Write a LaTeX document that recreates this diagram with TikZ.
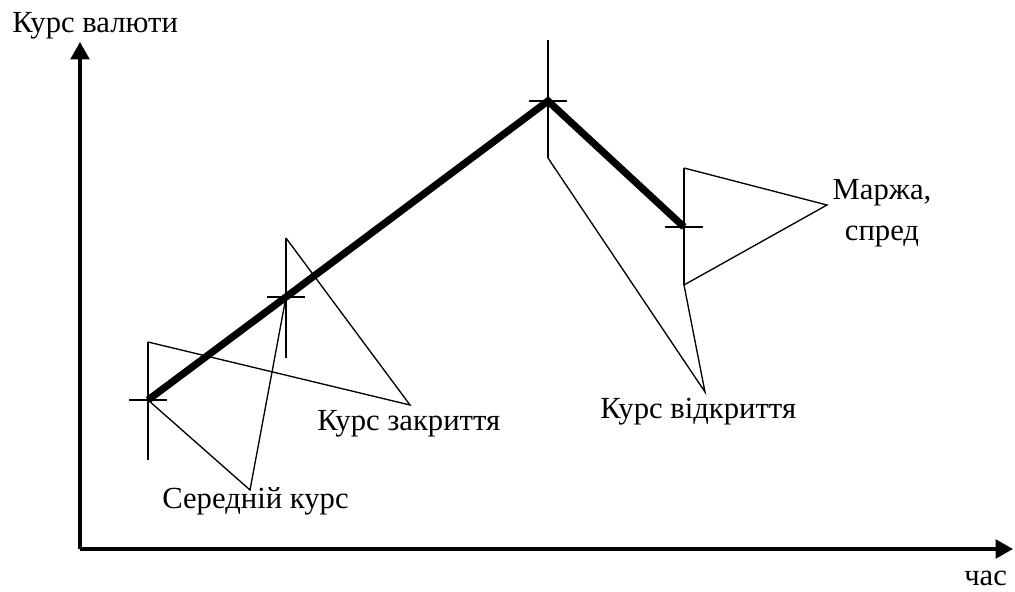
\documentclass[tikz,border=0pt]{standalone}
\usepackage{fontspec}
\setmainfont{Liberation Serif}
\usetikzlibrary{arrows.meta, calc, positioning}

\tikzset{
  axis/.style={line width=2.4pt, ->},
  rate/.style={line width=5.4pt, line join=miter},
  tickmark/.style={line width=1.5pt},
  callout/.style={line width=1pt, line join=miter},
  lbl/.style={font=\fontsize{23}{25}\selectfont, inner sep=0pt}
}

\begin{document}
\begin{tikzpicture}[x=0.75pt, y=-0.75pt, >={Triangle[length=13pt, width=14pt]}]
    \useasboundingbox (0,0) rectangle (1015,592);

    % points of the rate line
    \coordinate (a) at (148,400);
    \coordinate (b) at (286,297);
    \coordinate (c) at (548,101);
    \coordinate (d) at (684,227);

    % ends of the bars
    \coordinate (a-top) at (148,342);
    \coordinate (a-bot) at (148,460);
    \coordinate (b-top) at (286,238);
    \coordinate (b-bot) at (286,358);
    \coordinate (c-top) at (548,40);
    \coordinate (c-bot) at (548,158);
    \coordinate (d-top) at (684,168);
    \coordinate (d-bot) at (684,285);

    % labels
    \node[lbl, anchor=base west] (ylabel) at (12,33) {Курс валюти};
    \node[lbl, anchor=base west] (xlabel) at (964,585) {час};
    \node[lbl, anchor=base west] (close) at (317,430) {Курс закриття};
    \node[lbl, anchor=base west] (open) at (600,418) {Курс відкриття};
    \node[lbl, anchor=base west] (mid) at (162,508) {Середній курс};
    \node[lbl, anchor=north, align=center, font=\fontsize{23}{31}\selectfont] (spread) at (882,179) {Маржа,\\спред};

    % tips of the callouts
    \coordinate (close-tip) at (410,405);
    \coordinate (mid-tip) at (250,490);
    \coordinate (open-tip) at (705,392);
    \coordinate (spread-tip) at (827,205);

    % callouts
    \draw[callout] (a-top) -- (close-tip) -- (b-top);
    \draw[callout] (a) -- (mid-tip) -- (b);
    \draw[callout] (c-bot) -- (open-tip) -- (d-bot);
    \draw[callout] (d-top) -- (spread-tip) -- (d-bot);

    % bars
    \foreach \p in {a, b, c, d} {
        \draw[tickmark] (\p-top) -- (\p-bot);
        \draw[tickmark] ($(\p)+(-19,0)$) -- ($(\p)+(19,0)$);
    }

    \draw[rate] (a) -- (b) -- (c) -- (d);

    % axes
    \coordinate (o) at (80,549);
    \coordinate (y-end) at (80,42);
    \coordinate (x-end) at (1013,549);
    \draw[axis] (o) -- (y-end);
    \draw[axis] (o) -- (x-end);
\end{tikzpicture}
\end{document}
